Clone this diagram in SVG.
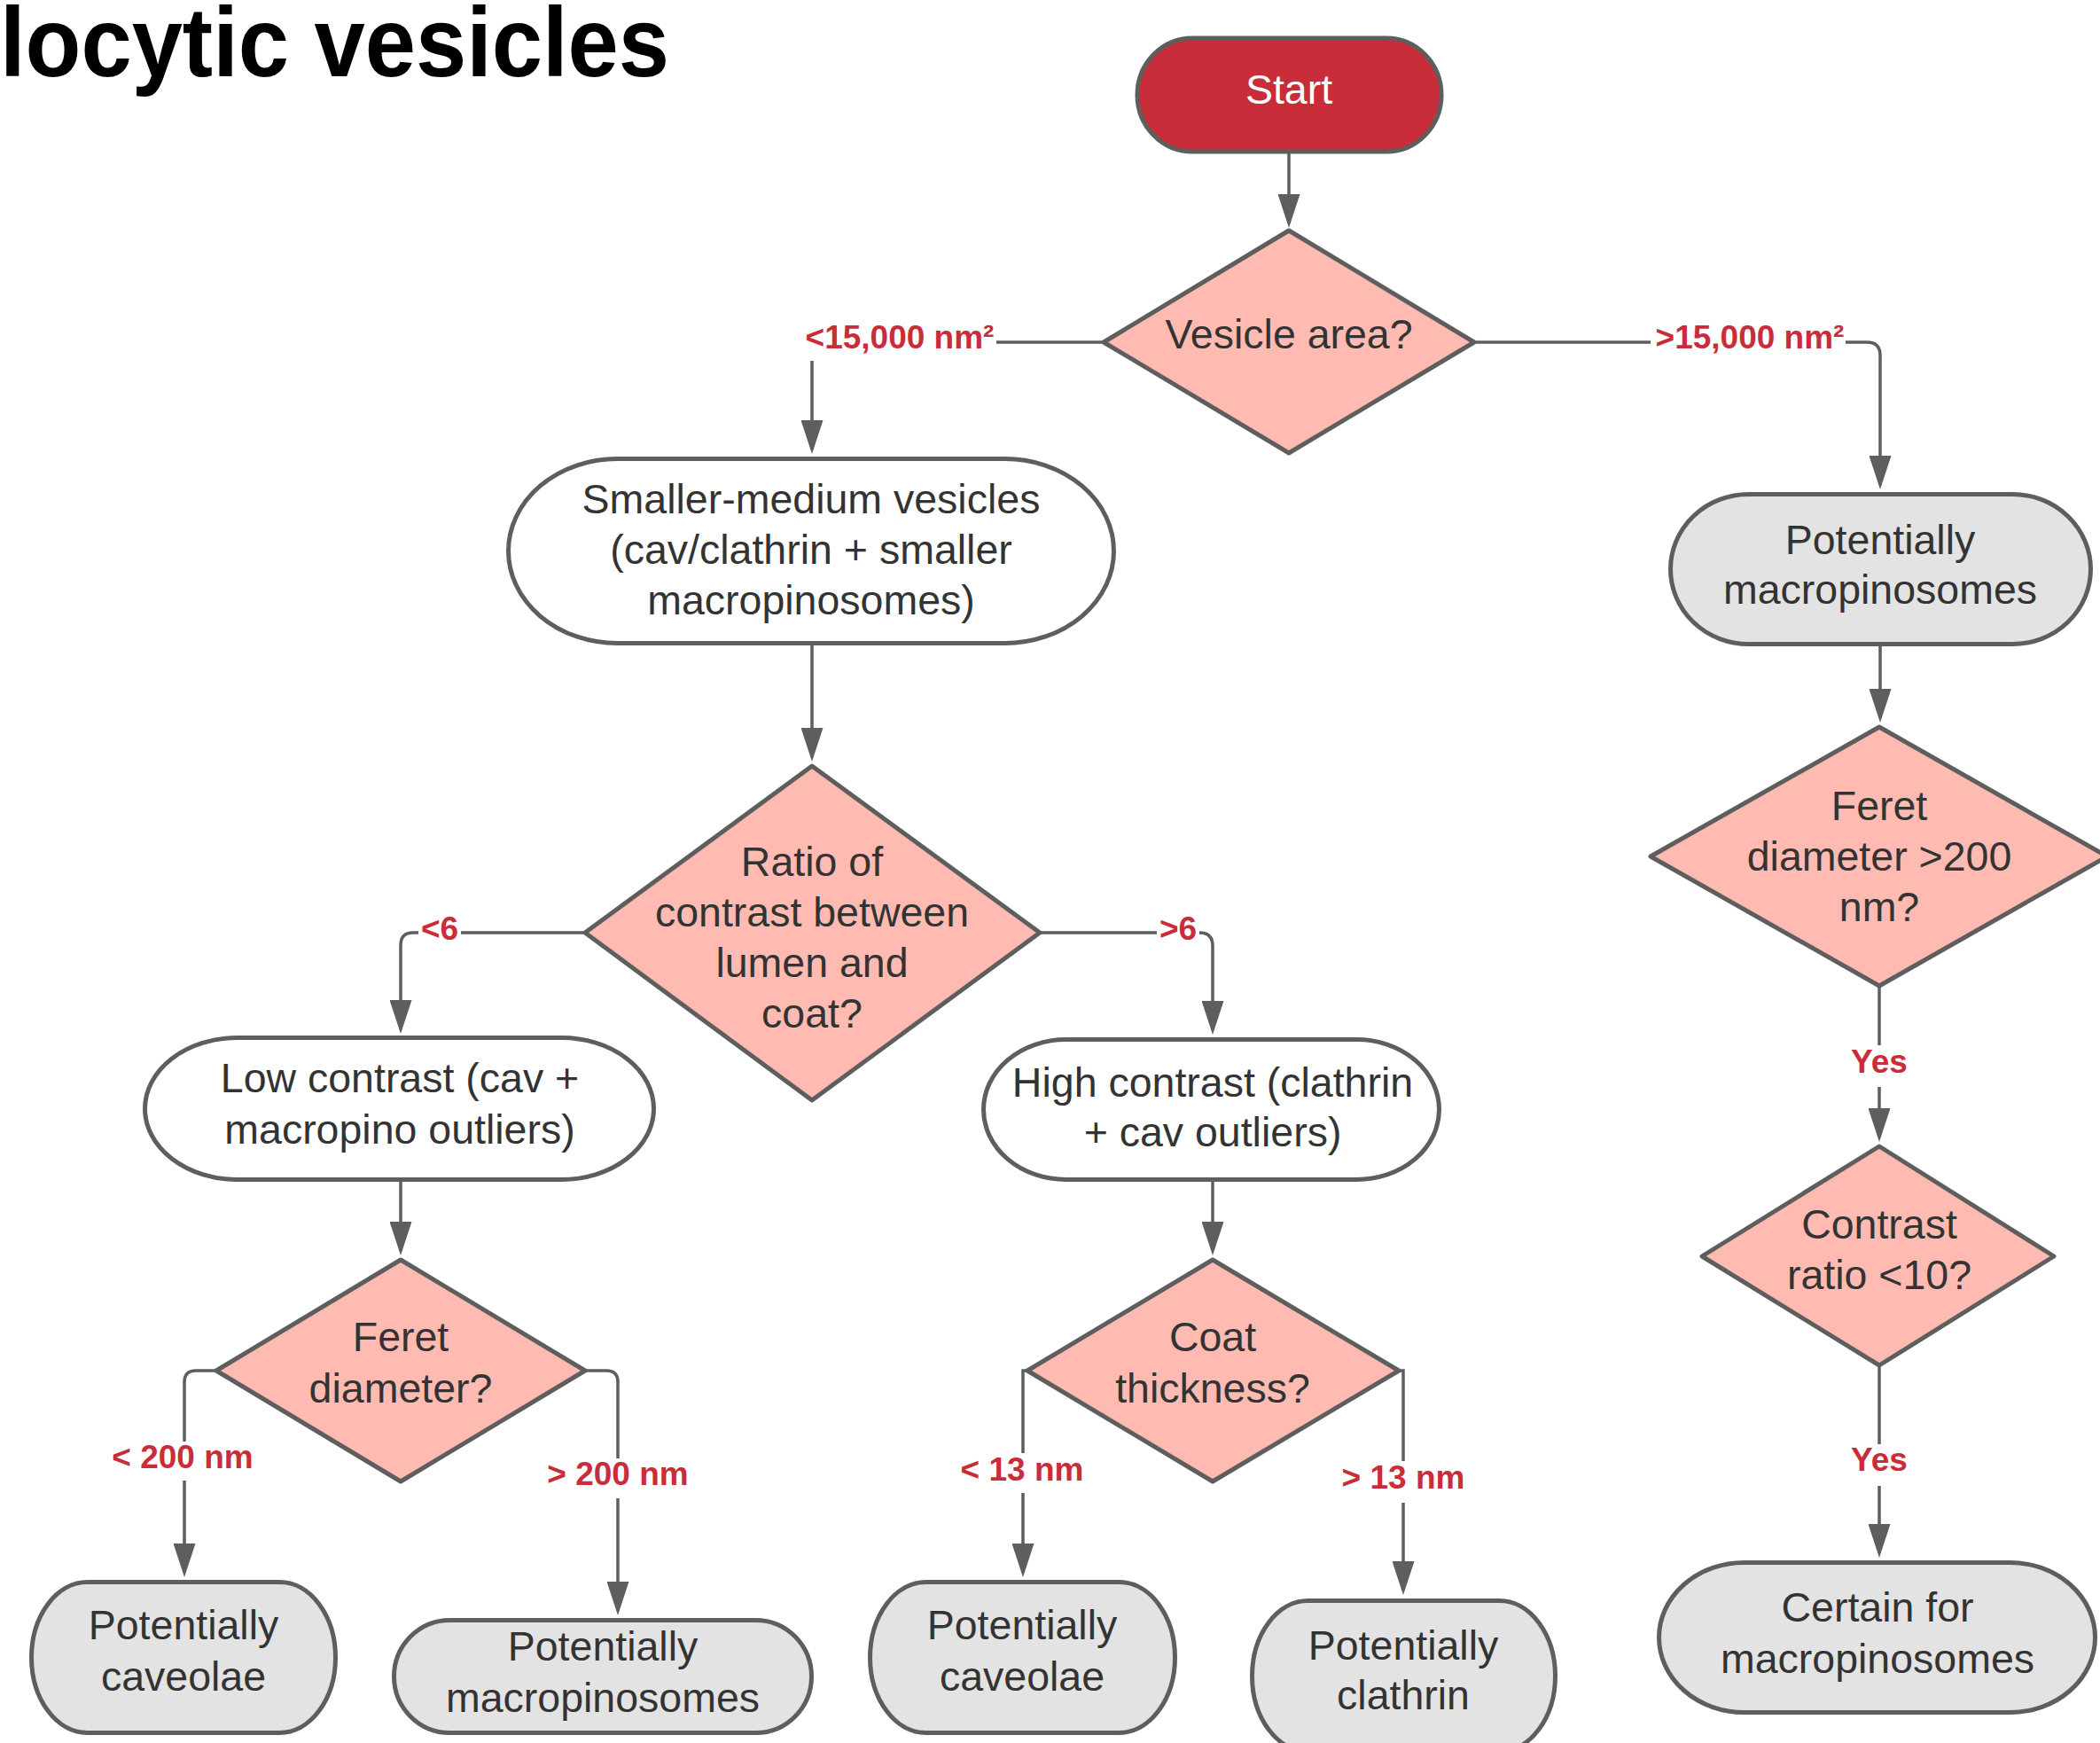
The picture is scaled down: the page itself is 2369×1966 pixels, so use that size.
<svg xmlns="http://www.w3.org/2000/svg" width="2369" height="1966" viewBox="0 0 2369 1966">
<style>
.t{font-family:"Liberation Sans",Arial,sans-serif;font-size:46.5px;fill:#333333;text-anchor:middle}
.lbl{font-family:"Liberation Sans",Arial,sans-serif;font-weight:bold;font-size:37px;fill:#c92d39;text-anchor:middle}
.shape{stroke:#5e5e5e;stroke-width:5;stroke-linejoin:round}
.dia{fill:#ffbbb1}
.grey{fill:#e3e3e3}
.white{fill:#ffffff}
.conn{fill:none;stroke:#5e5e5e;stroke-width:3.5}
.bg{fill:#ffffff}
</style>
<defs>
<marker id="arr" viewBox="0 0 38 25" markerWidth="38" markerHeight="25" markerUnits="userSpaceOnUse" refX="33" refY="12.5" orient="auto">
<path d="M0,0 L38,12.5 L0,25 Z" fill="#5e5e5e"/>
</marker>
</defs>
<rect width="2369" height="1966" fill="#ffffff"/>
<text x="0" y="86" font-family="Liberation Sans,Arial,sans-serif" font-weight="bold" font-size="112" fill="#000000" textLength="755" lengthAdjust="spacingAndGlyphs">locytic vesicles</text>

<g id="connectors">
<path class="conn" d="M1454,171 L1454,252" marker-end="url(#arr)"/>
<path class="conn" d="M1245,386 L930,386 Q916,386 916,400 L916,507" marker-end="url(#arr)"/>
<path class="conn" d="M1663,386 L2106,386 Q2121,386 2121,401 L2121,547" marker-end="url(#arr)"/>
<path class="conn" d="M916,728 L916,854" marker-end="url(#arr)"/>
<path class="conn" d="M660,1052 L466,1052 Q452,1052 452,1066 L452,1161" marker-end="url(#arr)"/>
<path class="conn" d="M1173,1052 L1353,1052 Q1368,1052 1368,1067 L1368,1162" marker-end="url(#arr)"/>
<path class="conn" d="M452,1333 L452,1411" marker-end="url(#arr)"/>
<path class="conn" d="M244,1546 L221,1546 Q208,1546 208,1559 L208,1774" marker-end="url(#arr)"/>
<path class="conn" d="M660,1546 L684,1546 Q697,1546 697,1559 L697,1817" marker-end="url(#arr)"/>
<path class="conn" d="M1368,1333 L1368,1411" marker-end="url(#arr)"/>
<path class="conn" d="M1159,1546 L1154,1546 L1154,1774" marker-end="url(#arr)"/>
<path class="conn" d="M1578,1546 L1583,1546 L1583,1794" marker-end="url(#arr)"/>
<path class="conn" d="M2121,729 L2121,810" marker-end="url(#arr)"/>
<path class="conn" d="M2120,1112 L2120,1283" marker-end="url(#arr)"/>
<path class="conn" d="M2120,1540 L2120,1752" marker-end="url(#arr)"/>
<rect class="bg" x="900" y="360" width="224" height="47"/>
<text class="lbl" x="1015" y="393">&lt;15,000 nm²</text>
<rect class="bg" x="1862" y="360" width="220" height="47"/>
<text class="lbl" x="1974" y="393">&gt;15,000 nm²</text>
<rect class="bg" x="472" y="1030" width="48" height="40"/>
<text class="lbl" x="496" y="1060">&lt;6</text>
<rect class="bg" x="1305" y="1030" width="48" height="40"/>
<text class="lbl" x="1329" y="1060">&gt;6</text>
<rect class="bg" x="122" y="1626" width="170" height="44"/>
<text class="lbl" x="206" y="1656">&lt; 200 nm</text>
<rect class="bg" x="612" y="1645" width="170" height="45"/>
<text class="lbl" x="697" y="1675">&gt; 200 nm</text>
<rect class="bg" x="1080" y="1639" width="146" height="45"/>
<text class="lbl" x="1153" y="1670">&lt; 13 nm</text>
<rect class="bg" x="1510" y="1648" width="146" height="47"/>
<text class="lbl" x="1583" y="1679">&gt; 13 nm</text>
<rect class="bg" x="2080" y="1179" width="80" height="47"/>
<text class="lbl" x="2120" y="1210">Yes</text>
<rect class="bg" x="2080" y="1629" width="80" height="47"/>
<text class="lbl" x="2120" y="1659">Yes</text>
</g>

<g id="start">
<rect class="shape" x="1283" y="43" width="343" height="128" rx="62" ry="64" fill="#c92d39"/>
<text class="t" x="1454" y="117" style="fill:#ffffff">Start</text>
</g>
<g id="vesicle-area">
<polygon class="shape dia" points="1454,260 1663,386 1454,511 1245,386"/>
<text class="t" x="1454" y="393">Vesicle area?</text>
</g>
<g id="smaller-medium">
<rect class="shape white" x="573.5" y="517.5" width="683" height="208" rx="123" ry="104"/>
<text class="t" x="915" y="579">Smaller-medium vesicles</text>
<text class="t" x="915" y="636">(cav/clathrin + smaller</text>
<text class="t" x="915" y="693">macropinosomes)</text>
</g>
<g id="potentially-macro-right">
<rect class="shape grey" x="1884.5" y="557.5" width="474" height="169" rx="88" ry="84.5"/>
<text class="t" x="2121" y="625">Potentially</text>
<text class="t" x="2121" y="681">macropinosomes</text>
</g>
<g id="feret-200">
<polygon class="shape dia" points="2120,820 2377,966 2120,1112 1862,966"/>
<text class="t" x="2120" y="925">Feret</text>
<text class="t" x="2120" y="982">diameter &gt;200</text>
<text class="t" x="2120" y="1039">nm?</text>
</g>
<g id="contrast-ratio">
<polygon class="shape dia" points="2120,1293 2317,1417 2120,1540 1920,1417"/>
<text class="t" x="2120" y="1397">Contrast</text>
<text class="t" x="2120" y="1454">ratio &lt;10?</text>
</g>
<g id="certain">
<rect class="shape grey" x="1871.5" y="1762.5" width="492" height="169" rx="96" ry="84.5"/>
<text class="t" x="2118" y="1829">Certain for</text>
<text class="t" x="2118" y="1887">macropinosomes</text>
</g>
<g id="ratio">
<polygon class="shape dia" points="916,864 1173,1052 916,1241 660,1052"/>
<text class="t" x="916" y="988">Ratio of</text>
<text class="t" x="916" y="1045">contrast between</text>
<text class="t" x="916" y="1102">lumen and</text>
<text class="t" x="916" y="1159">coat?</text>
</g>
<g id="low-contrast">
<rect class="shape white" x="163.5" y="1170.5" width="574" height="160" rx="104" ry="80"/>
<text class="t" x="451" y="1232">Low contrast (cav +</text>
<text class="t" x="451" y="1290">macropino outliers)</text>
</g>
<g id="high-contrast">
<rect class="shape white" x="1109.5" y="1172.5" width="514" height="158" rx="93" ry="79"/>
<text class="t" x="1368" y="1237">High contrast (clathrin</text>
<text class="t" x="1368" y="1293">+ cav outliers)</text>
</g>
<g id="feret">
<polygon class="shape dia" points="452,1421 660,1546 452,1671 244,1546"/>
<text class="t" x="452" y="1524">Feret</text>
<text class="t" x="452" y="1582">diameter?</text>
</g>
<g id="coat">
<polygon class="shape dia" points="1368,1421 1578,1546 1368,1671 1159,1546"/>
<text class="t" x="1368" y="1524">Coat</text>
<text class="t" x="1368" y="1582">thickness?</text>
</g>
<g id="caveolae-left">
<rect class="shape grey" x="35.5" y="1784.5" width="343" height="170" rx="63" ry="85"/>
<text class="t" x="207" y="1849">Potentially</text>
<text class="t" x="207" y="1907">caveolae</text>
</g>
<g id="macro-bottom">
<rect class="shape grey" x="444.5" y="1827.5" width="471" height="127" rx="63" ry="63.5"/>
<text class="t" x="680" y="1873">Potentially</text>
<text class="t" x="680" y="1931">macropinosomes</text>
</g>
<g id="caveolae-mid">
<rect class="shape grey" x="981.5" y="1784.5" width="344" height="170" rx="63" ry="85"/>
<text class="t" x="1153" y="1849">Potentially</text>
<text class="t" x="1153" y="1907">caveolae</text>
</g>
<g id="clathrin">
<rect class="shape grey" x="1412.5" y="1805.5" width="342" height="170" rx="63" ry="85"/>
<text class="t" x="1583" y="1872">Potentially</text>
<text class="t" x="1583" y="1928">clathrin</text>
</g>
</svg>
